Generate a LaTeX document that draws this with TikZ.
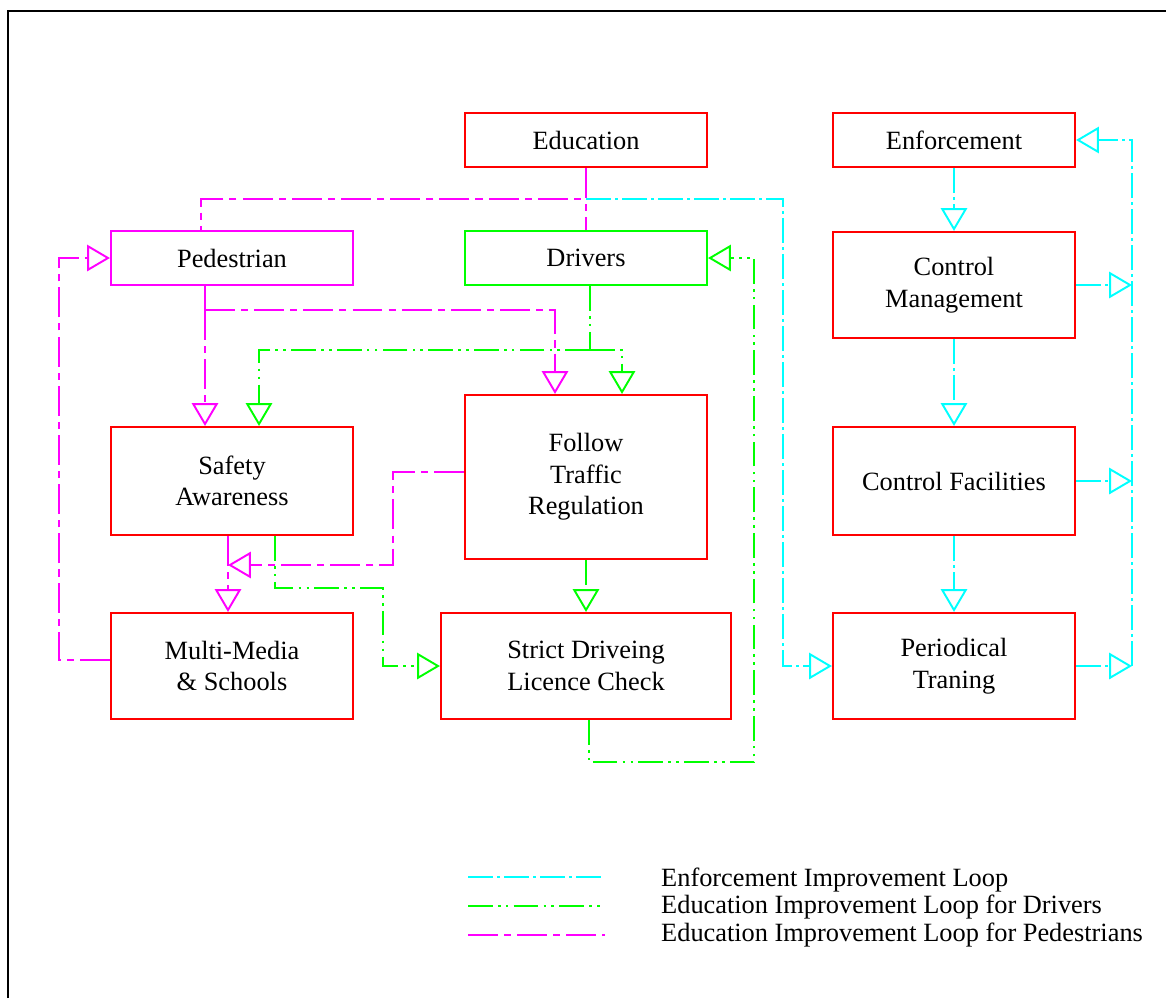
\documentclass[tikz,border=0pt]{standalone}
\usepackage{fontspec}
\setmainfont{Liberation Serif}
\usepackage{tikz}
\usetikzlibrary{arrows.meta, calc}
\definecolor{cred}{HTML}{FF0000}
\definecolor{cpink}{HTML}{FF00FF}
\definecolor{cgreen}{HTML}{00FF00}
\definecolor{ccyan}{HTML}{00FFFF}

\begin{document}
\begin{tikzpicture}[
  x=0.2mm, y=-0.2mm,
  box/.style={
    rectangle, draw=cred, line width=1.2pt, inner sep=0pt,
    minimum width=4.84cm, minimum height=1.08cm, align=center,
    font=\fontsize{15}{18}\selectfont
  },
  pedline/.style={draw=cpink, line width=1.1pt,
    dash pattern=on 17pt off 3.5pt on 4pt off 3.5pt},
  drvline/.style={draw=cgreen, line width=1.1pt,
    dash pattern=on 14pt off 3pt on 1.5pt off 3pt on 1.5pt off 3pt},
  enfline/.style={draw=ccyan, line width=1.1pt,
    dash pattern=on 14pt off 2.5pt on 1.5pt off 2.5pt},
  tip/.style={-{Triangle[open, length=13pt, width=15pt]}},
  legtext/.style={anchor=west, font=\fontsize{15}{18}\selectfont}
]
\useasboundingbox (0,0) rectangle (1166,998);

% outer frame (top and left edges only visible)
\draw[line width=1.6pt] (8,998) -- (8,11) -- (1166,11);

% ============================================================
% Boxes
\node[box] (edu) at (586,140) {Education};
\node[box] (enf) at (954,140) {Enforcement};
\node[box, draw=cpink] (ped) at (232,258) {Pedestrian};
\node[box, draw=cgreen] (drv) at (586,258) {Drivers};
\node[box, minimum height=2.16cm] (safe) at (232,481) {Safety\\Awareness};
\node[box, minimum height=3.28cm] (fol) at (586,477) {Follow\\Traffic\\Regulation};
\node[box, minimum height=2.12cm] (multi) at (232,666) {Multi-Media\\\& Schools};
\node[box, minimum width=5.8cm, minimum height=2.12cm] (strict) at (586,666)
  {Strict Driveing\\Licence Check};
\node[box, minimum height=2.12cm] (cm) at (954,285) {Control\\Management};
\node[box, minimum height=2.16cm] (cf) at (954,481) {Control Facilities};
\node[box, minimum height=2.12cm] (pt) at (954,666) {Periodical\\Traning};

% ============================================================
% Pedestrian loop (magenta)
\coordinate (ptop) at (201,199);
\draw[pedline] (edu.south) -- (drv.north);
\draw[pedline] (edu.south) |- (ptop) -- (ped.north -| ptop);

\coordinate (psplit) at (205,310);
\coordinate (pfol) at (555,310);
\draw[pedline] (ped.south -| psplit) -- (psplit);
\draw[pedline, tip] (psplit) -- (safe.north -| psplit);
\draw[pedline, tip] (psplit) -- (pfol) -- (fol.north -| pfol);

\coordinate (fbend) at (393,472);
\coordinate (fend) at (228,565);
\draw[pedline, tip] (fol.west |- fbend) -- (fbend) |- (fend);
\draw[pedline, tip] (safe.south -| fend) -- (multi.north -| fend);

\coordinate (mleft) at (59,660);
\draw[pedline, tip] (multi.west |- mleft) -- (mleft) |- (ped.west);

% ============================================================
% Driver loop (green)
\coordinate (dsplit) at (590,350);
\coordinate (dsafe) at (259,350);
\coordinate (dfol) at (622,350);
\draw[drvline] (drv.south -| dsplit) -- (dsplit);
\draw[drvline, tip] (dsplit) -- (dsafe) -- (safe.north -| dsafe);
\draw[drvline, tip] (dsplit) -- (dfol) -- (fol.north -| dfol);

\coordinate (sbend) at (275,588);
\coordinate (sbend2) at (383,588);
\draw[drvline, tip] (safe.south -| sbend) -- (sbend) -- (sbend2) |- (strict.west);
\draw[drvline, tip] (fol.south) -- (strict.north);

\coordinate (sdown) at (589,762);
\coordinate (sright) at (754,762);
\draw[drvline, tip] (strict.south -| sdown) -- (sdown) -- (sright) |- (drv.east);

% ============================================================
% Enforcement loop (cyan)
\coordinate (ctop) at (783,199);
\draw[enfline, tip] (edu.south |- ctop) -- (ctop) |- (pt.west);

\draw[enfline, tip] (enf.south) -- (cm.north);
\draw[enfline, tip] (cm.south) -- (cf.north);
\draw[enfline, tip] (cf.south) -- (pt.north);

\coordinate (rx) at (1132,0);
\draw[enfline, tip] (cm.east) -- (cm.east -| rx);
\draw[enfline, tip] (cf.east) -- (cf.east -| rx);
\draw[enfline, tip] (pt.east) -- (pt.east -| rx);
\draw[enfline, tip] (pt.east -| rx) |- (enf.east);

% ============================================================
% Legend
\draw[enfline] (468,877) -- (605,877);
\draw[drvline] (468,906) -- (605,906);
\draw[pedline] (468,935) -- (605,935);
\node[legtext] (l1) at (655,880) {Enforcement Improvement Loop};
\node[legtext] (l2) at (655,907) {Education Improvement Loop for Drivers};
\node[legtext] (l3) at (655,935) {Education Improvement Loop for Pedestrians};

\end{tikzpicture}
\end{document}
